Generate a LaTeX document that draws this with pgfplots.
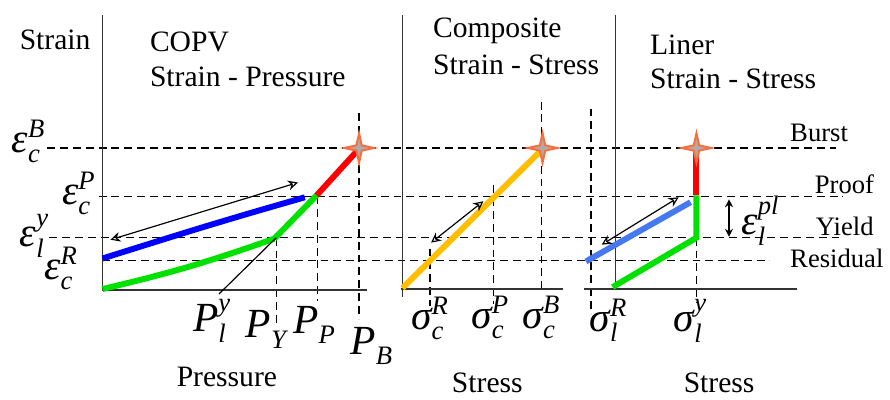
\documentclass[border=0pt]{standalone}
\usepackage{fontspec}
\setmainfont{Liberation Serif}
\usepackage{amsmath}
\usepackage{pgfplots}
\pgfplotsset{compat=1.18}
\usetikzlibrary{arrows.meta}

\definecolor{cblue}{RGB}{0,0,255}
\definecolor{lblue}{RGB}{70,120,240}
\definecolor{cgreen}{RGB}{0,225,0}
\definecolor{cred}{RGB}{255,0,0}
\definecolor{cgold}{RGB}{255,190,0}
\definecolor{starline}{RGB}{250,110,60}

% four-pointed burst marker
\pgfdeclareplotmark{burst}{%
  \pgfpathmoveto{\pgfqpoint{0pt}{\pgfplotmarksize}}%
  \pgfpathlineto{\pgfqpoint{0.18\pgfplotmarksize}{0.18\pgfplotmarksize}}%
  \pgfpathlineto{\pgfqpoint{\pgfplotmarksize}{0pt}}%
  \pgfpathlineto{\pgfqpoint{0.18\pgfplotmarksize}{-0.18\pgfplotmarksize}}%
  \pgfpathlineto{\pgfqpoint{0pt}{-\pgfplotmarksize}}%
  \pgfpathlineto{\pgfqpoint{-0.18\pgfplotmarksize}{-0.18\pgfplotmarksize}}%
  \pgfpathlineto{\pgfqpoint{-\pgfplotmarksize}{0pt}}%
  \pgfpathlineto{\pgfqpoint{-0.18\pgfplotmarksize}{0.18\pgfplotmarksize}}%
  \pgfpathclose
  \pgfusepathqfillstroke}

\DeclareMathSizes{21}{21}{13.5}{10}
\newcommand\ttl{\fontsize{15}{17}\selectfont}
\newcommand\sml{\fontsize{13.5}{15}\selectfont}
\newcommand\symf{\fontsize{21}{23}\selectfont}
\newcommand\sym[3]{$\textit{#1}^{\textit{#3}}_{\textit{#2}}$}

\tikzset{
  dashline/.style={black, line width=0.7pt, dash pattern=on 4pt off 2.5pt, mark=none},
  axline/.style={black!80, line width=0.8pt, mark=none},
  thick curve/.style={line width=3pt, mark=none},
  dbl/.style={black, line width=0.6pt, mark=none,
    {Stealth[open,length=5pt,width=5pt]}-{Stealth[open,length=5pt,width=5pt]}},
  starmark/.style={only marks, mark=burst, mark size=7.5pt,
    mark options={fill=gray!65, draw=starline, line width=1pt}},
}

\begin{document}
\begin{tikzpicture}
\begin{axis}[x=0.5pt, y=0.5pt, y dir=reverse,
  xmin=0, xmax=890, ymin=0, ymax=401,
  hide axis, clip=false]

% frame of the picture
\addplot[draw=none, mark=none] coordinates {(0,0) (890,401)};

% level lines: burst, proof, yield, residual
\addplot[dashline] coordinates {(48,150) (847,150)};
\addplot[dashline] coordinates {(100,199) (855,199)};
\addplot[dashline] coordinates {(50,241) (853,241)};
\addplot[dashline] coordinates {(104,264) (780,264)};

% COPV: vertical guides at P_Y, P_P, P_B
\addplot[dashline] coordinates {(280,241) (280,330)};
\addplot[dashline] coordinates {(322,199) (322,305)};
\addplot[dashline] coordinates {(364,115) (364,323)};
% composite guides
\addplot[dashline] coordinates {(436,252) (436,310)};
\addplot[dashline] coordinates {(500,188) (500,308)};
\addplot[dashline] coordinates {(549,103) (549,297)};
% liner guides
\addplot[dashline] coordinates {(599,110) (599,318)};
\addplot[dashline] coordinates {(706,241) (706,307)};

% axes of the three panels
\addplot[axline] coordinates {(104,15) (104,294) (372,294)};
\addplot[axline] coordinates {(408,15) (408,301)};
\addplot[axline] coordinates {(406,293) (571,293)};
\addplot[axline] coordinates {(624,15) (624,293)};
\addplot[axline] coordinates {(592,293) (808,293)};

% COPV strain-pressure
\addplot[thick curve, cgreen, smooth] coordinates
  {(104,293) (147,282.5) (191,270.5) (234,257) (278,242)};
\addplot[thick curve, cgreen] coordinates {(278,242) (321,198)};
\addplot[thick curve, cred] coordinates {(321,198) (362,153)};
\addplot[thick curve, cblue, smooth] coordinates
  {(104,262) (155,246) (205,230.5) (257,215) (309,200)};
\addplot[dbl] coordinates {(112,243) (302,185)};
\addplot[black, line width=0.6pt, mark=none] coordinates {(280,241) (222,298)};
\addplot[starmark] coordinates {(364,150)};

% composite strain-stress
\addplot[thick curve, cgold] coordinates {(408,292) (549,152)};
\addplot[dbl] coordinates {(437,246) (490,204)};
\addplot[starmark] coordinates {(550,150)};

% liner strain-stress
\addplot[thick curve, cgreen] coordinates {(621,291) (706,241) (706,198)};
\addplot[thick curve, cred] coordinates {(706,198) (706,153)};
\addplot[thick curve, lblue] coordinates {(594,265) (700,205)};
\addplot[dbl] coordinates {(610,248) (688,200)};
\addplot[black, line width=0.6pt, mark=none,
  {Stealth[length=4pt,width=4pt]}-{Stealth[length=4pt,width=4pt]}]
  coordinates {(739,202) (739,240)};
\addplot[starmark] coordinates {(706,150)};

% titles and axis names
\node[anchor=west, font=\ttl] at (13,40) {Strain};
\node[anchor=west, font=\ttl] at (145,42) {COPV};
\node[anchor=west, font=\ttl] at (145,78) {Strain - Pressure};
\node[anchor=west, font=\ttl] at (432,31) {Composite};
\node[anchor=west, font=\ttl] at (432,66) {Strain - Stress};
\node[anchor=west, font=\ttl] at (652,45) {Liner};
\node[anchor=west, font=\ttl] at (652,80) {Strain - Stress};
\node[font=\ttl] at (230,382) {Pressure};
\node[font=\ttl] at (494,388) {Stress};
\node[font=\ttl] at (729,388) {Stress};

% level names
\node[anchor=west, font=\sml] at (794,135) {Burst};
\node[anchor=west, font=\sml] at (819,187) {Proof};
\node[anchor=west, font=\sml] at (820,229) {Yield};
\node[anchor=west, font=\sml] at (794,262) {Residual};

% strain symbols
\node[font=\symf] at (29,143) {\sym{ε}{c}{B}};
\node[font=\symf] at (80,196) {\sym{ε}{c}{P}};
\node[font=\symf] at (35,239) {\sym{ε}{l}{y}};
\node[font=\symf] at (62,272) {\sym{ε}{c}{R}};
\node[font=\symf] at (771,224) {\sym{ε}{l}{pl}};

% pressure and stress symbols
\node[font=\symf] at (215,325) {\sym{P}{l}{y}};
\node[font=\symf] at (270,334) {\sym{P}{Y}{}};
\node[font=\symf] at (319,329) {\sym{P}{P}{}};
\node[font=\symf] at (377,351) {\sym{P}{B}{}};
\node[font=\symf] at (436,323) {\sym{σ}{c}{R}};
\node[font=\symf] at (497,322) {\sym{σ}{c}{P}};
\node[font=\symf] at (549,322) {\sym{σ}{c}{B}};
\node[font=\symf] at (617,325) {\sym{σ}{l}{R}};
\node[font=\symf] at (700,325) {\sym{σ}{l}{y}};

\end{axis}
\end{tikzpicture}
\end{document}
